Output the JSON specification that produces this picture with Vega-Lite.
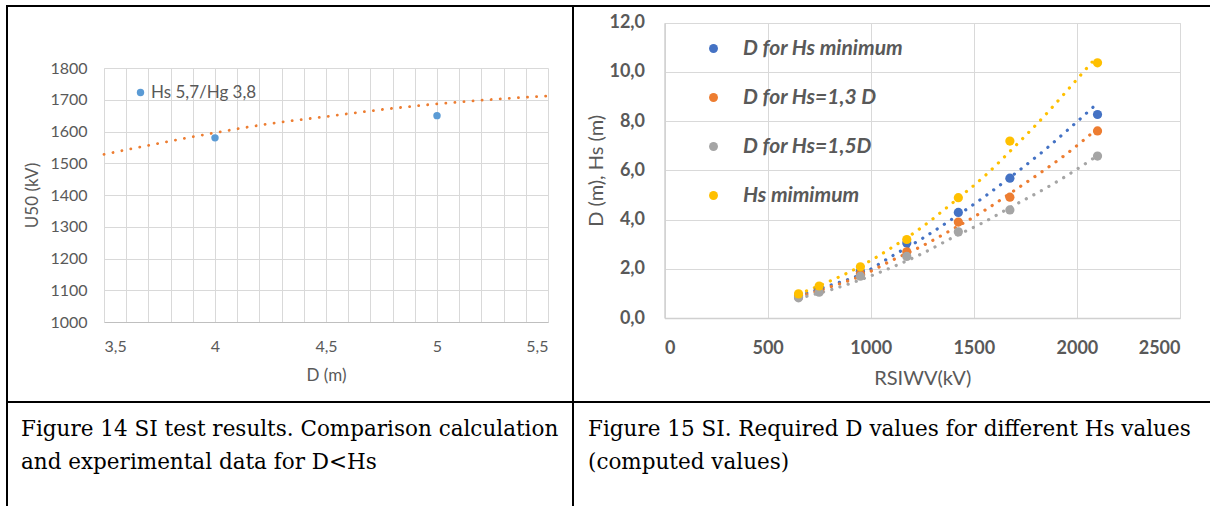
{
  "$schema": "https://vega.github.io/schema/vega-lite/v6.json",
  "background": "white",
  "padding": {"left": 6, "top": 5, "right": 0, "bottom": 0},
  "bounds": "flush",
  "spacing": 0,
  "columns": 2,
  "resolve": {"scale": {"color": "independent", "stroke": "independent"}, "legend": {"color": "independent"}},
  "config": {
    "view": {"stroke": "#000000", "strokeWidth": 2},
    "axis": {
      "labelFont": "Lato",
      "titleFont": "Lato",
      "labelColor": "#595959",
      "titleColor": "#595959",
      "titleFontWeight": "normal",
      "gridColor": "#d9d9d9",
      "gridWidth": 1,
      "ticks": false
    },
    "legend": {"labelFont": "Lato", "labelColor": "#595959", "padding": 0, "labelLimit": 400}
  },
  "concat": [
    {
      "width": 566,
      "height": 396,
      "resolve": {"axis": {"x": "independent"}},
      "layer": [
        {
          "data": {"values": [
            {"D": 3.5, "U50": 1528},
            {"D": 3.75, "U50": 1563},
            {"D": 4.0, "U50": 1596},
            {"D": 4.25, "U50": 1625},
            {"D": 4.5, "U50": 1647},
            {"D": 4.75, "U50": 1669},
            {"D": 5.0, "U50": 1687},
            {"D": 5.25, "U50": 1701},
            {"D": 5.5, "U50": 1712}
          ]},
          "mark": {"type": "line", "color": "#ED7D31", "strokeWidth": 2.8, "strokeDash": [0.1, 9], "strokeCap": "round", "interpolate": "monotone"},
          "encoding": {
            "x": {
              "field": "D", "type": "quantitative",
              "scale": {"domain": [3.5, 5.5], "range": [97, 541], "nice": false, "zero": false},
              "axis": {"orient": "top", "grid": true, "labels": false, "domain": false, "ticks": false, "title": null,
                "values": [3.5, 3.6, 3.7, 3.8, 3.9, 4, 4.1, 4.2, 4.3, 4.4, 4.5, 4.6, 4.7, 4.8, 4.9, 5, 5.1, 5.2, 5.3, 5.4, 5.5]}
            },
            "y": {
              "field": "U50", "type": "quantitative",
              "scale": {"domain": [1000, 1800], "range": [316, 62], "nice": false, "zero": false},
              "axis": {"orient": "left", "offset": -97, "values": [1000, 1100, 1200, 1300, 1400, 1500, 1600, 1700, 1800],
                "format": "d", "grid": true, "domain": true, "domainColor": "#d9d9d9",
                "labelPadding": 17, "labelFontSize": 16,
                "title": "U50 (kV)", "titleFontSize": 17, "titlePadding": 8}
            }
          }
        },
        {
          "data": {"values": [
            {"D": 4, "U50": 1580, "series": "Hs 5,7/Hg 3,8"},
            {"D": 5, "U50": 1650, "series": "Hs 5,7/Hg 3,8"}
          ]},
          "mark": {"type": "circle", "size": 55, "opacity": 1},
          "encoding": {
            "x": {
              "field": "D", "type": "quantitative",
              "axis": {"orient": "bottom", "offset": -80, "values": [3.5, 4, 4.5, 5, 5.5], "grid": false,
                "domain": true, "domainColor": "#bfbfbf",
                "labelExpr": "replace(format(datum.value, '~g'), '.', ',')",
                "labelPadding": 16, "labelFontSize": 16,
                "title": "D (m)", "titleFontSize": 17, "titlePadding": 13}
            },
            "y": {
              "field": "U50", "type": "quantitative",
              "axis": {"orient": "left", "offset": -97, "values": [1000, 1100, 1200, 1300, 1400, 1500, 1600, 1700, 1800],
                "format": "d", "grid": true, "domain": true, "domainColor": "#d9d9d9",
                "labelPadding": 17, "labelFontSize": 16,
                "title": "U50 (kV)", "titleFontSize": 17, "titlePadding": 8}
            },
            "color": {
              "field": "series", "type": "nominal",
              "scale": {"domain": ["Hs 5,7/Hg 3,8"], "range": ["#5B9BD5"]},
              "legend": {"orient": "none", "legendX": 125, "legendY": 78, "title": null,
                "symbolType": "circle", "symbolSize": 55, "labelFontSize": 17, "labelOffset": 2}
            }
          }
        }
      ]
    },
    {
      "width": 640,
      "height": 396,
      "resolve": {"axis": {"x": "independent"}},
      "layer": [
        {
          "data": {"values": [
            {"RSIWV": 650, "value": 0.9, "series": "D for Hs minimum"},
            {"RSIWV": 800, "value": 1.32, "series": "D for Hs minimum"},
            {"RSIWV": 950, "value": 1.76, "series": "D for Hs minimum"},
            {"RSIWV": 1100, "value": 2.5, "series": "D for Hs minimum"},
            {"RSIWV": 1250, "value": 3.23, "series": "D for Hs minimum"},
            {"RSIWV": 1400, "value": 4.05, "series": "D for Hs minimum"},
            {"RSIWV": 1550, "value": 4.92, "series": "D for Hs minimum"},
            {"RSIWV": 1700, "value": 5.87, "series": "D for Hs minimum"},
            {"RSIWV": 1850, "value": 6.87, "series": "D for Hs minimum"},
            {"RSIWV": 1950, "value": 7.6, "series": "D for Hs minimum"},
            {"RSIWV": 2100, "value": 8.73, "series": "D for Hs minimum"},
            {"RSIWV": 650, "value": 0.85, "series": "D for Hs=1,3 D"},
            {"RSIWV": 800, "value": 1.25, "series": "D for Hs=1,3 D"},
            {"RSIWV": 950, "value": 1.7, "series": "D for Hs=1,3 D"},
            {"RSIWV": 1100, "value": 2.33, "series": "D for Hs=1,3 D"},
            {"RSIWV": 1250, "value": 2.93, "series": "D for Hs=1,3 D"},
            {"RSIWV": 1400, "value": 3.62, "series": "D for Hs=1,3 D"},
            {"RSIWV": 1550, "value": 4.36, "series": "D for Hs=1,3 D"},
            {"RSIWV": 1700, "value": 5.2, "series": "D for Hs=1,3 D"},
            {"RSIWV": 1850, "value": 6.06, "series": "D for Hs=1,3 D"},
            {"RSIWV": 1950, "value": 6.67, "series": "D for Hs=1,3 D"},
            {"RSIWV": 2100, "value": 7.7, "series": "D for Hs=1,3 D"},
            {"RSIWV": 650, "value": 0.8, "series": "D for Hs=1,5D"},
            {"RSIWV": 800, "value": 1.13, "series": "D for Hs=1,5D"},
            {"RSIWV": 950, "value": 1.55, "series": "D for Hs=1,5D"},
            {"RSIWV": 1100, "value": 2.05, "series": "D for Hs=1,5D"},
            {"RSIWV": 1250, "value": 2.62, "series": "D for Hs=1,5D"},
            {"RSIWV": 1400, "value": 3.28, "series": "D for Hs=1,5D"},
            {"RSIWV": 1550, "value": 3.9, "series": "D for Hs=1,5D"},
            {"RSIWV": 1700, "value": 4.6, "series": "D for Hs=1,5D"},
            {"RSIWV": 1850, "value": 5.28, "series": "D for Hs=1,5D"},
            {"RSIWV": 1950, "value": 5.78, "series": "D for Hs=1,5D"},
            {"RSIWV": 2100, "value": 6.6, "series": "D for Hs=1,5D"},
            {"RSIWV": 650, "value": 0.97, "series": "Hs mimimum"},
            {"RSIWV": 800, "value": 1.49, "series": "Hs mimimum"},
            {"RSIWV": 950, "value": 2.1, "series": "Hs mimimum"},
            {"RSIWV": 1100, "value": 2.85, "series": "Hs mimimum"},
            {"RSIWV": 1250, "value": 3.7, "series": "Hs mimimum"},
            {"RSIWV": 1400, "value": 4.7, "series": "Hs mimimum"},
            {"RSIWV": 1550, "value": 5.75, "series": "Hs mimimum"},
            {"RSIWV": 1700, "value": 6.98, "series": "Hs mimimum"},
            {"RSIWV": 1850, "value": 8.28, "series": "Hs mimimum"},
            {"RSIWV": 1950, "value": 9.22, "series": "Hs mimimum"},
            {"RSIWV": 2100, "value": 10.65, "series": "Hs mimimum"}
          ]},
          "mark": {"type": "line", "strokeWidth": 3.2, "strokeDash": [0.1, 8.5], "strokeCap": "round", "interpolate": "monotone"},
          "encoding": {
            "x": {
              "field": "RSIWV", "type": "quantitative",
              "scale": {"domain": [0, 2500], "range": [91.5, 607], "nice": false, "zero": false},
              "axis": {"orient": "top", "grid": true, "labels": false, "domain": false, "ticks": false, "title": null,
                "values": [0, 500, 1000, 1500, 2000, 2500]}
            },
            "y": {
              "field": "value", "type": "quantitative",
              "scale": {"domain": [0, 12], "range": [312, 16.7], "nice": false, "zero": false},
              "axis": {"orient": "left", "offset": -91.5, "values": [0, 2, 4, 6, 8, 10, 12],
                "grid": true, "domain": true, "domainColor": "#d0d0d0", "domainWidth": 1.5,
                "labelExpr": "replace(format(datum.value, '.1f'), '.', ',')",
                "labelPadding": 20, "labelFontSize": 18, "labelFontWeight": "bold",
                "title": "D (m), Hs (m)", "titleFontSize": 20, "titlePadding": 2}
            },
            "stroke": {
              "field": "series", "type": "nominal",
              "scale": {"domain": ["Hs mimimum", "D for Hs=1,5D", "D for Hs=1,3 D", "D for Hs minimum"],
                "range": ["#FFC000", "#A5A5A5", "#ED7D31", "#4472C4"]},
              "legend": null
            }
          }
        },
        {
          "data": {"values": [
            {"RSIWV": 650, "value": 0.9, "series": "D for Hs minimum"},
            {"RSIWV": 750, "value": 1.2, "series": "D for Hs minimum"},
            {"RSIWV": 950, "value": 1.9, "series": "D for Hs minimum"},
            {"RSIWV": 1175, "value": 3.05, "series": "D for Hs minimum"},
            {"RSIWV": 1425, "value": 4.29, "series": "D for Hs minimum"},
            {"RSIWV": 1675, "value": 5.68, "series": "D for Hs minimum"},
            {"RSIWV": 2100, "value": 8.27, "series": "D for Hs minimum"},
            {"RSIWV": 650, "value": 0.85, "series": "D for Hs=1,3 D"},
            {"RSIWV": 750, "value": 1.1, "series": "D for Hs=1,3 D"},
            {"RSIWV": 950, "value": 1.8, "series": "D for Hs=1,3 D"},
            {"RSIWV": 1175, "value": 2.69, "series": "D for Hs=1,3 D"},
            {"RSIWV": 1425, "value": 3.9, "series": "D for Hs=1,3 D"},
            {"RSIWV": 1675, "value": 4.91, "series": "D for Hs=1,3 D"},
            {"RSIWV": 2100, "value": 7.6, "series": "D for Hs=1,3 D"},
            {"RSIWV": 650, "value": 0.82, "series": "D for Hs=1,5D"},
            {"RSIWV": 750, "value": 1.05, "series": "D for Hs=1,5D"},
            {"RSIWV": 950, "value": 1.7, "series": "D for Hs=1,5D"},
            {"RSIWV": 1175, "value": 2.5, "series": "D for Hs=1,5D"},
            {"RSIWV": 1425, "value": 3.5, "series": "D for Hs=1,5D"},
            {"RSIWV": 1675, "value": 4.39, "series": "D for Hs=1,5D"},
            {"RSIWV": 2100, "value": 6.58, "series": "D for Hs=1,5D"},
            {"RSIWV": 650, "value": 0.98, "series": "Hs mimimum"},
            {"RSIWV": 750, "value": 1.3, "series": "Hs mimimum"},
            {"RSIWV": 950, "value": 2.08, "series": "Hs mimimum"},
            {"RSIWV": 1175, "value": 3.19, "series": "Hs mimimum"},
            {"RSIWV": 1425, "value": 4.89, "series": "Hs mimimum"},
            {"RSIWV": 1675, "value": 7.19, "series": "Hs mimimum"},
            {"RSIWV": 2100, "value": 10.37, "series": "Hs mimimum"}
          ]},
          "mark": {"type": "circle", "size": 85, "opacity": 1},
          "encoding": {
            "x": {
              "field": "RSIWV", "type": "quantitative",
              "axis": {"orient": "bottom", "offset": -84, "values": [0, 500, 1000, 1500, 2000, 2500], "grid": false,
                "domain": true, "domainColor": "#d0d0d0", "domainWidth": 1.5, "format": "d",
                "labelPadding": 21, "labelFontSize": 18, "labelFontWeight": "bold",
                "title": "RSIWV(kV)", "titleFontSize": 20, "titlePadding": 11}
            },
            "y": {
              "field": "value", "type": "quantitative",
              "axis": {"orient": "left", "offset": -91.5, "values": [0, 2, 4, 6, 8, 10, 12],
                "grid": true, "domain": true, "domainColor": "#d0d0d0", "domainWidth": 1.5,
                "labelExpr": "replace(format(datum.value, '.1f'), '.', ',')",
                "labelPadding": 20, "labelFontSize": 18, "labelFontWeight": "bold",
                "title": "D (m), Hs (m)", "titleFontSize": 20, "titlePadding": 2}
            },
            "color": {
              "field": "series", "type": "nominal",
              "scale": {"domain": ["D for Hs minimum", "D for Hs=1,3 D", "D for Hs=1,5D", "Hs mimimum"],
                "range": ["#4472C4", "#ED7D31", "#A5A5A5", "#FFC000"]},
              "legend": {"orient": "none", "legendX": 130, "legendY": 32, "title": null,
                "symbolType": "circle", "symbolSize": 80, "labelFontSize": 21,
                "labelFontStyle": "italic", "labelFontWeight": "bold", "labelLimit": 400,
                "labelOffset": 19, "rowPadding": 27}
            }
          }
        }
      ]
    },
    {
      "width": 566,
      "height": 110,
      "data": {"values": [
        {"caption": ["Figure 14 SI test results. Comparison calculation", "and experimental data for D<Hs"]}
      ]},
      "layer": [
        {
          "mark": {"type": "rect", "fill": null, "fillOpacity": 0, "stroke": "#000000", "strokeWidth": 2},
          "encoding": {}
        },
        {
          "mark": {"type": "text", "align": "left", "baseline": "alphabetic", "font": "DejaVu Serif",
            "fontSize": 21.5, "lineHeight": 33, "color": "#000000", "dx": -269, "dy": -21},
          "encoding": {"text": {"field": "caption"}}
        }
      ]
    },
    {
      "width": 640,
      "height": 110,
      "data": {"values": [
        {"caption": ["Figure 15 SI. Required D values  for different Hs values", "(computed values)"]}
      ]},
      "layer": [
        {
          "mark": {"type": "rect", "fill": null, "fillOpacity": 0, "stroke": "#000000", "strokeWidth": 2},
          "encoding": {}
        },
        {
          "mark": {"type": "text", "align": "left", "baseline": "alphabetic", "font": "DejaVu Serif",
            "fontSize": 21.5, "lineHeight": 33, "color": "#000000", "dx": -305, "dy": -21},
          "encoding": {"text": {"field": "caption"}}
        }
      ]
    }
  ]
}
